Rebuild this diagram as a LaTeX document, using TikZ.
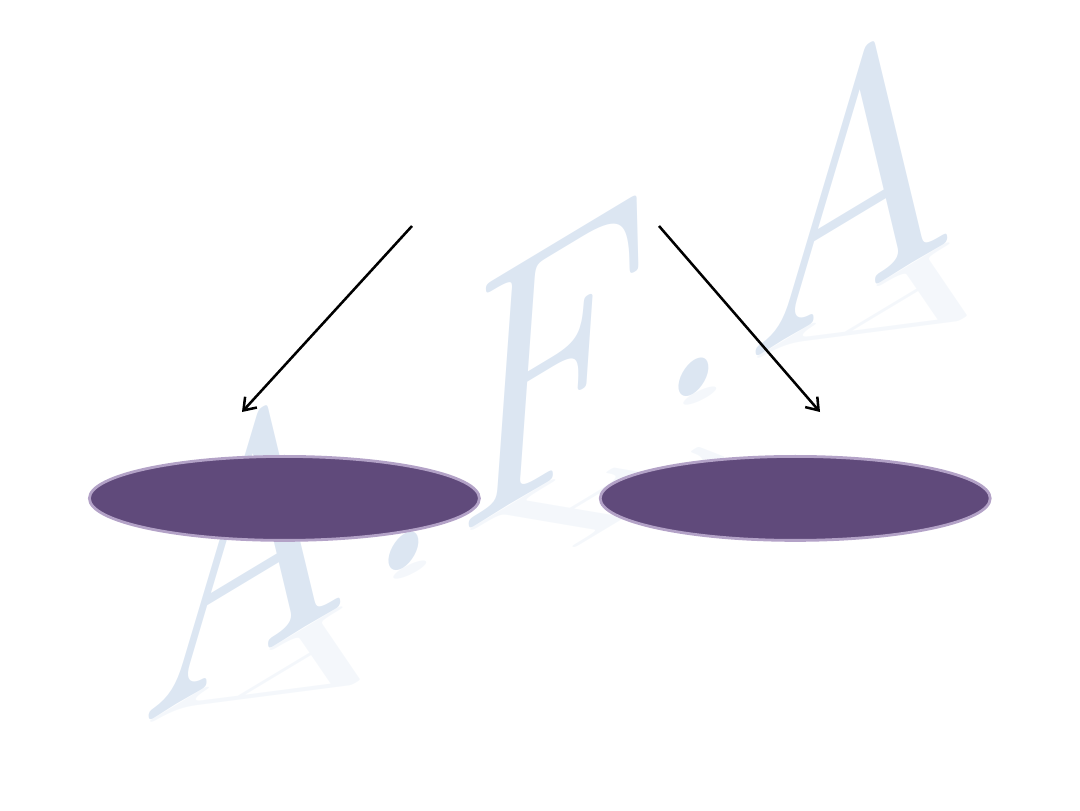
\documentclass[tikz,border=0pt]{standalone}
\usepackage{fontspec}
\usepackage{tikz}
\usetikzlibrary{arrows.meta, positioning, shapes.geometric}

\definecolor{ovalfill}{HTML}{604A7B}
\definecolor{ovalline}{HTML}{B3A2C7}
\definecolor{markblue}{HTML}{DCE6F2}

\begin{document}
\begin{tikzpicture}[
  node distance=2.95cm,
  oval/.style={ellipse, draw=ovalline, line width=2pt, fill=ovalfill,
    minimum width=9.75cm, minimum height=2.1cm, inner sep=0pt},
  arrow/.style={-{Straight Barb[length=2.8mm, width=4mm]}, line width=1.8pt},
  wmtext/.style={text=markblue, font=\fontsize{210}{210}\selectfont, inner sep=0pt, anchor=base}
]
  \useasboundingbox (0,0) rectangle (27,20.25);

  % watermark and its reflection
  \node[wmtext, rotate=31, xslant=0.4, xscale=1.22] (wm) at (13.7,8.2) {\itshape A.F.A};
  \node[wmtext, rotate=31, opacity=0.3, xslant=-0.3, xscale=1.22, yscale=-0.35] (wmr) at (13.7,8.2) {\itshape A.F.A};

  \node[oval] (left) at (7.11,7.79) {};
  \node[oval, right=of left] (right) {};

  \coordinate (l1) at (10.3,14.6);
  \coordinate (l2) at (6.05,9.95);
  \coordinate (r1) at (16.475,14.6);
  \coordinate (r2) at (20.5,9.95);

  \draw[arrow] (l1) -- (l2);
  \draw[arrow] (r1) -- (r2);
\end{tikzpicture}
\end{document}
